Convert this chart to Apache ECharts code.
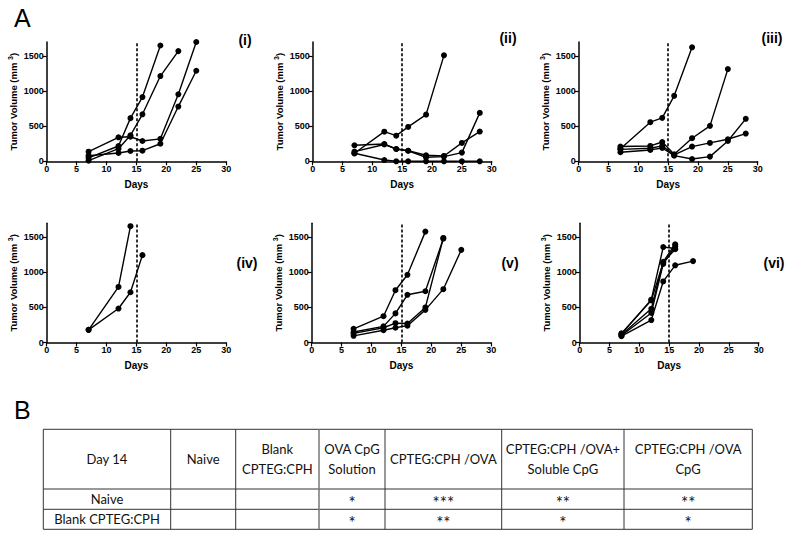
<!DOCTYPE html>
<html>
<head>
<meta charset="utf-8">
<script src="https://cdn.jsdelivr.net/npm/echarts@6/dist/echarts.min.js"></script>
<style>html,body{margin:0;padding:0;background:#fff;}#c{width:800px;height:539px;}</style>
</head>
<body>
<div id="c"></div>
<script>
// ---------- data ----------
const panelLabels = ['(i)', '(ii)', '(iii)', '(iv)', '(v)', '(vi)'];
const xTicks = [0, 5, 10, 15, 20, 25, 30];
const yTicks = [0, 500, 1000, 1500];
const treatmentDay = 15;

const panel1 = [
  [[7, 50], [12, 218], [14, 615], [16, 915], [19, 1650]],
  [[7, 10], [12, 180], [14, 370], [16, 670], [19, 1215], [22, 1570]],
  [[7, 137], [12, 342], [14, 350], [16, 289], [19, 320], [22, 955], [25, 1700]],
  [[7, 80], [12, 118], [14, 147], [16, 151], [19, 250], [22, 780], [25, 1290]]
];
const panel2 = [
  [[7, 114], [12, 422], [14, 365], [16, 490], [19, 665], [22, 1510]],
  [[7, 228], [12, 246], [14, 175], [16, 150], [19, 86], [22, 76], [25, 262], [28, 424]],
  [[7, 137], [12, 240], [14, 175], [16, 150], [19, 57], [22, 67], [25, 124], [28, 690]],
  [[7, 114], [12, 18], [14, 0], [16, 0], [19, 0], [22, 0], [25, 0], [28, 0]]
];
const panel3 = [
  [[7, 180], [12, 557], [14, 619], [16, 933], [19, 1624]],
  [[7, 210], [12, 219], [14, 275], [16, 100], [19, 329], [22, 505], [25, 1314]],
  [[7, 170], [12, 186], [14, 220], [16, 90], [19, 210], [22, 262], [25, 314], [28, 395]],
  [[7, 130], [12, 162], [14, 190], [16, 80], [19, 33], [22, 67], [25, 290], [28, 605]]
];
const panel4 = [
  [[7, 180], [12, 792], [14, 1657]],
  [[7, 180], [12, 484], [14, 716], [16, 1245]]
];
const panel5 = [
  [[7, 195], [12, 375], [14, 745], [16, 965], [19, 1580]],
  [[7, 150], [12, 230], [14, 415], [16, 680], [19, 730], [22, 1480]],
  [[7, 130], [12, 210], [14, 275], [16, 270], [19, 500], [22, 1490]],
  [[7, 95], [12, 175], [14, 210], [16, 240], [19, 465], [22, 760], [25, 1320]]
];
const panel6 = [
  [[7, 120], [12, 610], [14, 1360], [16, 1340]],
  [[7, 110], [12, 480], [14, 1150], [16, 1400]],
  [[7, 100], [12, 420], [14, 1120], [16, 1370]],
  [[7, 130], [12, 600], [14, 1140], [16, 1330]],
  [[7, 90], [12, 320], [14, 870], [16, 1100], [19, 1160]]
];

const tableHeader = ['Day 14', 'Naive', 'Blank\nCPTEG:CPH', 'OVA CpG\nSolution', 'CPTEG:CPH /OVA', 'CPTEG:CPH /OVA+\nSoluble CpG', 'CPTEG:CPH /OVA\nCpG'];
const rowLabels = ['Naive', 'Blank CPTEG:CPH'];
const sigNaive = ['', '', '*', '***', '**', '**'];
const sigBlank = ['', '', '*', '**', '*', '*'];

// ---------- layout ----------
const panels = [panel1, panel2, panel3, panel4, panel5, panel6];
const gridBoxes = [
  [46.7, 42, 179.5, 119.3], [312.7, 42, 179, 119.3], [578.7, 42, 179, 119.3],
  [46.7, 223.2, 179.5, 119.3], [311.7, 223.2, 179.5, 119.3], [579.7, 223.2, 179, 119.3]
];
const labelPos = [[245, 40], [508, 38], [772, 38], [247, 263], [510, 263], [774, 263]];
const colX = [43.3, 170.7, 235.7, 319, 385, 501.7, 624, 752.3];
const rowY = [429.3, 489, 509.3, 529.3];

const FONT = 'Liberation Sans, Arial, sans-serif';
const axisColor = '#000';

const grids = [], xAxes = [], yAxes = [], series = [], graphics = [];

gridBoxes.forEach((b, i) => {
  grids.push({ left: b[0], top: b[1], width: b[2], height: b[3], containLabel: false });
  xAxes.push({
    gridIndex: i, type: 'value', min: 0, max: 30, interval: 5,
    axisLine: { show: true, onZero: false, lineStyle: { color: axisColor, width: 1.5 } },
    axisTick: { show: true, length: 4, customValues: xTicks, lineStyle: { color: axisColor, width: 1.2 } },
    axisLabel: { customValues: xTicks, formatter: v => String(v), color: '#000', fontSize: 9, fontWeight: 'bold', fontFamily: FONT, margin: 3 },
    splitLine: { show: false },
    name: 'Days', nameLocation: 'middle', nameGap: 18,
    nameTextStyle: { color: '#000', fontSize: 10, fontWeight: 'bold', fontFamily: FONT }
  });
  yAxes.push({
    gridIndex: i, type: 'value', min: 0, max: 1700,
    axisLine: { show: true, onZero: false, lineStyle: { color: axisColor, width: 1.5 } },
    axisTick: { show: true, length: 4, customValues: yTicks, lineStyle: { color: axisColor, width: 1.2 } },
    axisLabel: { customValues: yTicks, formatter: v => String(v), color: '#000', fontSize: 9, fontWeight: 'bold', fontFamily: FONT, margin: 3 },
    splitLine: { show: false },
    name: '{a|Tumor Volume (mm }{s|3}{a|)}', nameLocation: 'middle', nameGap: 26, nameRotate: 90,
    nameTextStyle: {
      rich: {
        a: { color: '#000', fontSize: 9.5, fontWeight: 'bold', fontFamily: FONT, lineHeight: 14 },
        s: { color: '#000', fontSize: 7, fontWeight: 'bold', fontFamily: FONT, lineHeight: 14, verticalAlign: 'top', padding: [0, 0, 6, 0] }
      }
    }
  });
  panels[i].forEach((d, k) => {
    const s = {
      type: 'line', xAxisIndex: i, yAxisIndex: i, data: d,
      symbol: 'circle', symbolSize: 6, showSymbol: true,
      itemStyle: { color: '#000' }, lineStyle: { color: '#000', width: 1.4 },
      animation: false, silent: true
    };
    if (k === 0) {
      s.markLine = {
        silent: true, symbol: 'none', label: { show: false }, animation: false,
        lineStyle: { type: [3, 2], color: '#000', width: 1.6 },
        data: [{ xAxis: treatmentDay }]
      };
    }
    series.push(s);
  });
  graphics.push({
    type: 'text', x: labelPos[i][0], y: labelPos[i][1],
    style: { text: panelLabels[i], font: 'bold 14px ' + FONT, fill: '#000', align: 'center', verticalAlign: 'middle' }
  });
});

// Section letters
graphics.push({ type: 'text', x: 14, y: 18, style: { text: 'A', font: '25px ' + FONT, fill: '#000', verticalAlign: 'middle' } });
graphics.push({ type: 'text', x: 14, y: 410, style: { text: 'B', font: '25px ' + FONT, fill: '#000', verticalAlign: 'middle' } });

// Table
const lineCol = '#333';
rowY.forEach(y => graphics.push({ type: 'line', shape: { x1: colX[0], y1: y, x2: colX[colX.length - 1], y2: y }, style: { stroke: lineCol, lineWidth: 1 } }));
colX.forEach((x, j) => graphics.push({ type: 'line', shape: { x1: x, y1: rowY[0], x2: x, y2: rowY[rowY.length - 1] }, style: { stroke: j === 3 ? '#777' : lineCol, lineWidth: j === 3 ? 1.5 : 1 } }));
const TFONT = '13px Lato, Open Sans, sans-serif';
const SFONT = '17px Lato, Open Sans, sans-serif';
function cellText(txt, c, r, font, dy) {
  graphics.push({
    type: 'text', x: (colX[c] + colX[c + 1]) / 2, y: (rowY[r] + rowY[r + 1]) / 2 + (dy || 0),
    style: { text: txt, font: font || TFONT, fill: '#111', align: 'center', verticalAlign: 'middle', lineHeight: 20 }
  });
}
tableHeader.forEach((t, c) => cellText(t, c, 0));
rowLabels.forEach((t, r) => cellText(t, 0, r + 1));
sigNaive.forEach((t, c) => { if (t) cellText(t, c + 1, 1, SFONT, 3); });
sigBlank.forEach((t, c) => { if (t) cellText(t, c + 1, 2, SFONT, 3); });

const chart = echarts.init(document.getElementById('c'), null, { renderer: 'svg' });
chart.setOption({
  backgroundColor: '#fff',
  animation: false,
  grid: grids, xAxis: xAxes, yAxis: yAxes, series: series,
  graphic: graphics
});
</script>
</body>
</html>
